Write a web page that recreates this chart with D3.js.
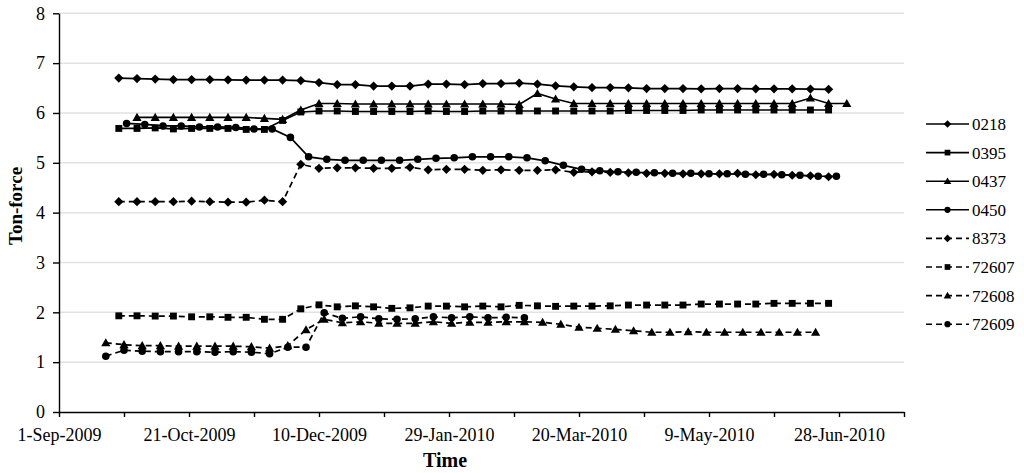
<!DOCTYPE html>
<html><head><meta charset="utf-8">
<script src="https://cdn.jsdelivr.net/npm/d3@7"></script>
<style>body{margin:0;background:#fff}svg{display:block}text{font-family:"Liberation Serif","Times New Roman",serif;fill:#000}</style>
</head><body>
<script>
// ---------- DATA ----------
const weeklyDates = ["2009-09-24","2009-10-01","2009-10-08","2009-10-15","2009-10-22","2009-10-29","2009-11-05","2009-11-12","2009-11-19","2009-11-26",
"2009-12-03","2009-12-10","2009-12-17","2009-12-24","2009-12-31","2010-01-07","2010-01-14","2010-01-21","2010-01-28","2010-02-04",
"2010-02-11","2010-02-18","2010-02-25","2010-03-04","2010-03-11","2010-03-18","2010-03-25","2010-04-01","2010-04-08","2010-04-15",
"2010-04-22","2010-04-29","2010-05-06","2010-05-13","2010-05-20","2010-05-27","2010-06-03","2010-06-10","2010-06-17","2010-06-24","2010-07-01"];
const dates0450 = ["2009-09-27","2009-10-04","2009-10-11","2009-10-18","2009-10-25","2009-11-01","2009-11-08","2009-11-15","2009-11-22","2009-11-29",
"2009-12-06","2009-12-13","2009-12-20","2009-12-27","2010-01-03","2010-01-10","2010-01-17","2010-01-24","2010-01-31","2010-02-07",
"2010-02-14","2010-02-21","2010-02-28","2010-03-07","2010-03-14","2010-03-21","2010-03-28","2010-04-04","2010-04-11","2010-04-18",
"2010-04-25","2010-05-02","2010-05-09","2010-05-16","2010-05-23","2010-05-30","2010-06-06","2010-06-13","2010-06-20","2010-06-27"];
const dates726 = ["2009-09-19","2009-09-26","2009-10-03","2009-10-10","2009-10-17","2009-10-24","2009-10-31","2009-11-07","2009-11-14","2009-11-21",
"2009-11-28","2009-12-05","2009-12-12","2009-12-19","2009-12-26","2010-01-02","2010-01-09","2010-01-16","2010-01-23","2010-01-30",
"2010-02-06","2010-02-13","2010-02-20","2010-02-27","2010-03-06","2010-03-13","2010-03-20","2010-03-27","2010-04-03","2010-04-10",
"2010-04-17","2010-04-24","2010-05-01","2010-05-08","2010-05-15","2010-05-22","2010-05-29","2010-06-05","2010-06-12","2010-06-19"];

const s0218 = [6.70,6.69,6.68,6.67,6.67,6.67,6.665,6.66,6.66,6.66,6.65,6.61,6.57,6.57,6.54,6.54,6.54,6.58,6.58,6.57,
6.59,6.59,6.60,6.58,6.545,6.525,6.51,6.51,6.505,6.49,6.49,6.49,6.485,6.49,6.49,6.485,6.485,6.485,6.48,6.475];
const s0395 = [5.69,5.69,5.70,5.68,5.69,5.69,5.69,5.67,5.67,5.85,6.02,6.04,6.04,6.03,6.03,6.03,6.03,6.04,6.03,6.03,
6.04,6.04,6.04,6.04,6.04,6.04,6.04,6.04,6.05,6.05,6.05,6.05,6.06,6.06,6.06,6.06,6.06,6.06,6.06,6.06];
const s0437 = [5.91,5.91,5.91,5.91,5.91,5.91,5.91,5.89,5.87,6.06,6.19,6.19,6.18,6.18,6.18,6.18,6.18,6.18,6.18,6.18,
6.18,6.17,6.39,6.28,6.19,6.19,6.19,6.19,6.19,6.19,6.19,6.19,6.19,6.19,6.19,6.19,6.19,6.30,6.19,6.19];
const s0450 = [5.79,5.77,5.74,5.74,5.72,5.72,5.71,5.68,5.68,5.51,5.12,5.07,5.05,5.05,5.05,5.05,5.07,5.09,5.10,5.12,
5.12,5.12,5.10,5.04,4.95,4.87,4.84,4.82,4.81,4.80,4.79,4.79,4.78,4.78,4.77,4.77,4.76,4.75,4.73,4.73];
const s8373 = [4.22,4.22,4.22,4.22,4.23,4.22,4.21,4.21,4.25,4.22,4.97,4.89,4.90,4.90,4.89,4.89,4.91,4.86,4.87,4.87,
4.85,4.86,4.85,4.85,4.86,4.81,4.82,4.81,4.80,4.79,4.79,4.78,4.78,4.78,4.79,4.76,4.77,4.75,4.74,4.72];
const s72607 = [1.93,1.93,1.925,1.925,1.91,1.91,1.90,1.90,1.86,1.86,2.07,2.15,2.11,2.13,2.11,2.08,2.09,2.125,2.125,2.11,
2.125,2.11,2.14,2.13,2.12,2.125,2.125,2.13,2.146,2.146,2.146,2.146,2.166,2.166,2.166,2.166,2.18,2.18,2.18,2.18];
const s72608 = [1.39,1.35,1.33,1.33,1.32,1.32,1.32,1.32,1.31,1.28,1.33,1.65,1.86,1.79,1.81,1.78,1.78,1.78,1.81,1.78,
1.80,1.80,1.81,1.81,1.80,1.76,1.70,1.68,1.66,1.63,1.60,1.60,1.61,1.60,1.60,1.60,1.60,1.60,1.60,1.60];
const s72609 = [1.12,1.24,1.22,1.21,1.21,1.21,1.20,1.21,1.20,1.17,1.30,1.30,1.99,1.88,1.91,1.87,1.86,1.87,1.91,1.89,
1.91,1.89,1.90,1.89];

const seriesNames = ["0218","0395","0437","0450","8373","72607","72608","72609"];
const xDomain = ["2009-09-01","2010-07-23"];
const xTickDates = ["2009-09-01","2009-09-26","2009-10-21","2009-11-15","2009-12-10","2010-01-04","2010-01-29",
"2010-02-23","2010-03-20","2010-04-14","2010-05-09","2010-06-03","2010-06-28","2010-07-23"];
const xTickLabels = ["1-Sep-2009","21-Oct-2009","10-Dec-2009","29-Jan-2010","20-Mar-2010","9-May-2010","28-Jun-2010"];
const yTicks = [0,1,2,3,4,5,6,7,8];
const xTitle = "Time", yTitle = "Ton-force";

// ---------- CHART ----------
const parse = d3.utcParse("%Y-%m-%d");
const W = 1024, H = 473;
const mLeft = 59, mRight = 904, mTop = 13.3, mBottom = 412;
const x = d3.scaleUtc().domain(xDomain.map(parse)).range([mLeft, mRight]);
const y = d3.scaleLinear().domain([0, 8]).range([mBottom, mTop]);

const svg = d3.select("body").append("svg").attr("width", W).attr("height", H);

// gridlines
svg.append("g").selectAll("line").data(yTicks.filter(v => v > 0)).join("line")
  .attr("x1", mLeft).attr("x2", mRight).attr("y1", d => y(d)).attr("y2", d => y(d))
  .attr("stroke", "#e2e2e2").attr("stroke-width", 1.5);

// axes
const yAxis = svg.append("g").attr("transform", `translate(${mLeft},0)`)
  .call(d3.axisLeft(y).tickValues(yTicks).tickSize(6).tickSizeOuter(0).tickPadding(8).tickFormat(d3.format("d")));
const xAxis = svg.append("g").attr("transform", `translate(0,${mBottom})`)
  .call(d3.axisBottom(x).tickValues(xTickDates.map(parse)).tickSize(5).tickSizeOuter(0).tickPadding(11)
    .tickFormat((d, i) => i % 2 === 0 ? xTickLabels[i / 2] : ""));
[yAxis, xAxis].forEach(g => {
  g.selectAll("path,line").attr("stroke", "#000").attr("stroke-width", 1.4);
  g.selectAll("text").attr("font-size", 18).attr("font-family", "Liberation Serif").attr("fill", "#000");
});

svg.append("text").attr("x", 445).attr("y", 467).attr("text-anchor", "middle")
  .attr("font-size", 20).attr("font-weight", "bold").text(xTitle);
svg.append("text").attr("transform", "translate(22,206) rotate(-90)").attr("text-anchor", "middle")
  .attr("font-size", 19).attr("font-weight", "bold").text(yTitle);

// marker shapes
const shapes = {
  diamond: s => `M0,${-s}L${s},0L0,${s}L${-s},0Z`,
  square: s => `M${-s*0.75},${-s*0.75}H${s*0.75}V${s*0.75}H${-s*0.75}Z`,
  triangle: s => `M0,${-s}L${s},${s*0.75}L${-s},${s*0.75}Z`,
  circle: s => d3.symbol(d3.symbolCircle, Math.PI * (s*0.82) * (s*0.82))()
};

const series = [
  {name: seriesNames[0], dates: weeklyDates.slice(0, 40), vals: s0218, shape: "diamond", dash: null},
  {name: seriesNames[1], dates: weeklyDates.slice(0, 40), vals: s0395, shape: "square", dash: null},
  {name: seriesNames[2], dates: weeklyDates.slice(1, 41), vals: s0437, shape: "triangle", dash: null},
  {name: seriesNames[3], dates: dates0450, vals: s0450, shape: "circle", dash: null},
  {name: seriesNames[4], dates: weeklyDates.slice(0, 40), vals: s8373, shape: "diamond", dash: "6,4"},
  {name: seriesNames[5], dates: weeklyDates.slice(0, 40), vals: s72607, shape: "square", dash: "6,4"},
  {name: seriesNames[6], dates: dates726, vals: s72608, shape: "triangle", dash: "6,4"},
  {name: seriesNames[7], dates: dates726.slice(0, s72609.length), vals: s72609, shape: "circle", dash: "6,4"}
];

const line = d3.line().x(d => x(d.date)).y(d => y(d.v));
series.forEach(s => {
  const pts = s.vals.map((v, i) => ({date: parse(s.dates[i]), v}));
  const g = svg.append("g");
  g.append("path").datum(pts).attr("d", line).attr("fill", "none").attr("stroke", "#000")
    .attr("stroke-width", 1.7).attr("stroke-dasharray", s.dash);
  g.selectAll("path.m").data(pts).join("path").attr("class", "m")
    .attr("transform", d => `translate(${x(d.date)},${y(d.v)})`)
    .attr("d", shapes[s.shape](4.6)).attr("fill", "#000");
});

// legend
const lg = svg.append("g");
series.forEach((s, i) => {
  const ly = 124 + i * 28.6;
  lg.append("line").attr("x1", 926).attr("x2", 969).attr("y1", ly).attr("y2", ly)
    .attr("stroke", "#000").attr("stroke-width", 1.6).attr("stroke-dasharray", s.dash);
  lg.append("path").attr("transform", `translate(947.5,${ly})`).attr("d", shapes[s.shape](3.8)).attr("fill", "#000");
  lg.append("text").attr("x", 972).attr("y", ly).attr("dy", "0.35em").attr("font-size", 17).text(s.name);
});
</script>
</body></html>
